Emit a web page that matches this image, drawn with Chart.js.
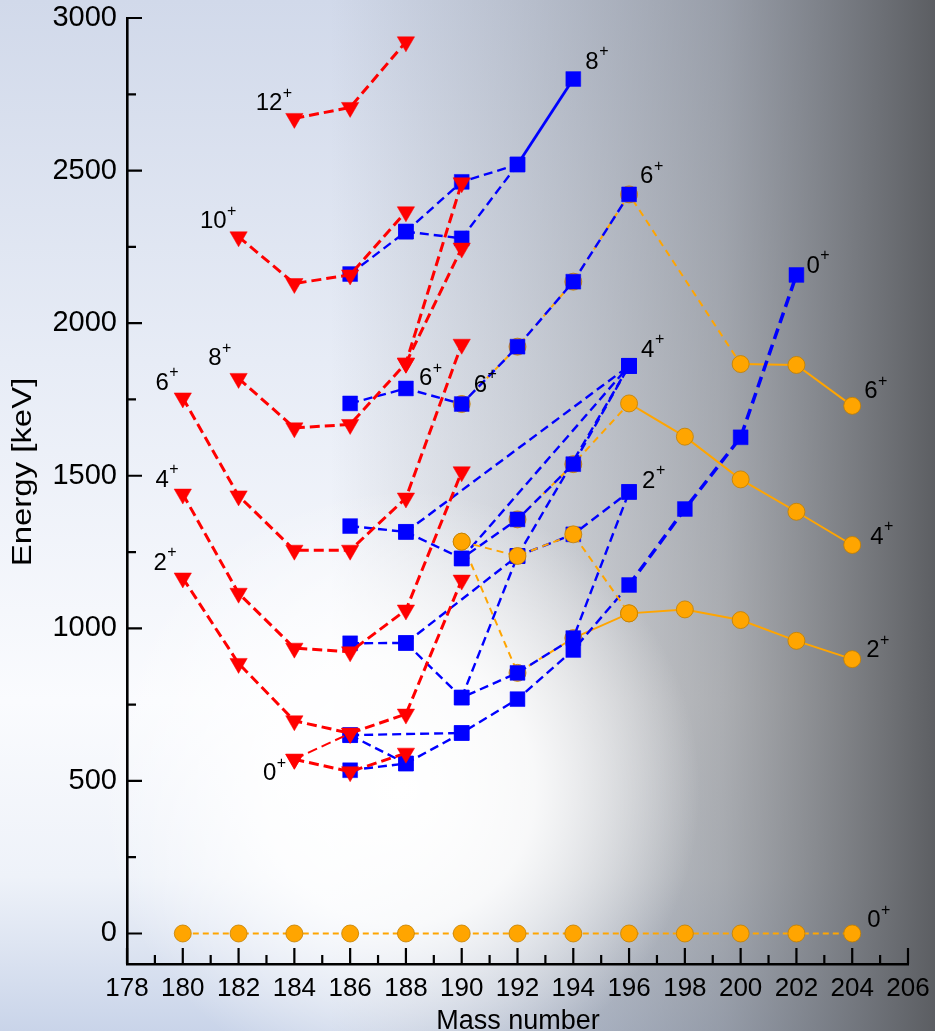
<!DOCTYPE html>
<html>
<head>
<meta charset="utf-8">
<script src="https://cdn.jsdelivr.net/npm/chart.js@4.4.1/dist/chart.umd.min.js"></script>
<style>
  html, body { margin: 0; padding: 0; background: #fff; }
  canvas { display: block; }
</style>
</head>
<body>
<canvas id="levels" width="935" height="1031"></canvas>
<script>
// ---- axis ticks ----
const X_TICKS = [178, 180, 182, 184, 186, 188, 190, 192, 194, 196, 198, 200, 202, 204, 206];
const X_MINOR = [179, 181, 183, 185, 187, 189, 191, 193, 195, 197, 199, 201, 203, 205];
const Y_TICKS = [0, 500, 1000, 1500, 2000, 2500, 3000];
const Y_MINOR = [250, 750, 1250, 1750, 2250, 2750];

// ---- red band (triangles): mass number / energy in keV ----
const redA_0 = [184, 186, 188];
const redE_0 = [571, 530, 591];
const redA_0b = [184, 186];
const redE_0b = [571, 656];
const redA_2 = [180, 182, 184, 186, 188, 190];
const redE_2 = [1165, 885, 697, 656, 719, 1158];
const redA_4 = [180, 182, 184, 186, 188, 190];
const redE_4 = [1440, 1115, 935, 923, 1060, 1513];
const redA_6 = [180, 182, 184, 186, 188, 190];
const redE_6 = [1755, 1434, 1256, 1256, 1427, 1931];
const redA_8 = [182, 184, 186, 188, 190];
const redE_8 = [1819, 1657, 1668, 1869, 2460];
const redA_8b = [188, 190];
const redE_8b = [1869, 2246];
const redA_10 = [182, 184, 186, 188];
const redE_10 = [2283, 2130, 2158, 2365];
const redA_12 = [184, 186, 188];
const redE_12 = [2671, 2707, 2922];

// ---- blue band (squares) ----
const blueA_0 = [186, 188, 190, 192, 194, 196, 198, 200, 202];
const blueE_0 = [535, 557, 657, 768, 929, 1142, 1391, 1626, 2158];
const blueA_0b = [186, 188];
const blueE_0b = [650, 557];
const blueA_0c = [186, 190];
const blueE_0c = [650, 657];
const blueA_2 = [186, 188, 192, 194, 196];
const blueE_2 = [951, 952, 1237, 1308, 1447];
const blueA_2b = [188, 190, 192, 194, 196];
const blueE_2b = [952, 773, 854, 968, 1447];
const blueA_2c = [190, 192];
const blueE_2c = [773, 1237];
const blueA_4 = [186, 188, 190, 192, 194, 196];
const blueE_4 = [1335, 1316, 1229, 1357, 1538, 1860];
const blueA_4b = [188, 196];
const blueE_4b = [1316, 1860];
const blueA_4c = [190, 196];
const blueE_4c = [1229, 1860];
const blueA_4d = [192, 196];
const blueE_4d = [1237, 1860];
const blueA_6 = [186, 188, 190, 192, 194, 196];
const blueE_6 = [1737, 1786, 1735, 1923, 2136, 2422];
const blueA_8 = [186, 188, 190, 192, 194];
const blueE_8 = [2161, 2300, 2463, 2520, 2800];
const blueA_8b = [188, 190, 192];
const blueE_8b = [2300, 2278, 2520];

// ---- orange band (circles) ----
const orgA_0 = [180, 182, 184, 186, 188, 190, 192, 194, 196, 198, 200, 202, 204];
const orgE_0 = [0, 0, 0, 0, 0, 0, 0, 0, 0, 0, 0, 0, 0];
const orgA_2 = [190, 192, 194, 196, 198, 200, 202, 204];
const orgE_2 = [1284, 854, 968, 1049, 1062, 1027, 959, 899];
const orgA_2b = [190, 192, 194, 196];
const orgE_2b = [1284, 1237, 1308, 1049];
const orgA_4 = [192, 194, 196, 198, 200, 202, 204];
const orgE_4 = [1357, 1538, 1737, 1628, 1488, 1382, 1273];
const orgA_6 = [190, 192, 194, 196, 200, 202, 204];
const orgE_6 = [1735, 1923, 2136, 2422, 1866, 1863, 1729];

// ---- spin labels ----
const lblText = ['12', '10', '8', '6', '4', '2', '0', '8', '6', '6', '6', '4', '2', '0', '6', '4', '2', '0'];
const lblA = [184, 182, 182, 180, 180, 180, 184, 194, 188, 190, 196, 196, 196, 202, 204, 204, 204, 204];
const lblE = [2671, 2283, 1819, 1755, 1440, 1165, 571, 2800, 1786, 1735, 2422, 1860, 1447, 2158, 1729, 1273, 899, 0];
// placement of each label relative to its level: [dx, dy, side]
const lblPlace = [
  [-12, -15, 'R'], [-12, -15, 'R'], [-17, -20, 'R'], [-14, -15, 'R'], [-14, -14, 'R'], [-16, -15, 'R'],
  [-18, 14, 'R'], [12, -17, 'L'], [13, -10, 'L'], [12, -19, 'L'], [11, -18, 'L'], [12, -16, 'L'],
  [13, -11, 'L'], [10, -9, 'L'], [12, -14, 'L'], [18, -8, 'L'], [14, -9, 'L'], [15, -13, 'L']
];

const FONT = '"Liberation Sans", Arial, Helvetica, sans-serif';
const RED = '#ff0000', BLUE = '#0000ff', ORANGE = '#ffa500';

function pts(A, E) { return A.map((a, i) => ({ x: a, y: E[i] })); }

function red(A, E, extra) {
  return Object.assign({
    data: pts(A, E), showLine: true, tension: 0, order: 1,
    borderColor: RED, borderWidth: 3, borderDash: [10, 5],
    pointStyle: 'triangle', rotation: 180, pointRadius: 10,
    pointBackgroundColor: RED, pointBorderColor: RED, pointBorderWidth: 0.5
  }, extra || {});
}
function blue(A, E, extra) {
  return Object.assign({
    data: pts(A, E), showLine: true, tension: 0, order: 2,
    borderColor: BLUE, borderWidth: 2.4, borderDash: [9, 5],
    pointStyle: 'rect', pointRadius: 10.5,
    pointBackgroundColor: BLUE, pointBorderColor: BLUE, pointBorderWidth: 0.5
  }, extra || {});
}
function orange(A, E, extra) {
  return Object.assign({
    data: pts(A, E), showLine: true, tension: 0, order: 3,
    borderColor: ORANGE, borderWidth: 2, borderDash: [7, 5],
    pointStyle: 'circle', pointRadius: 8.5,
    pointBackgroundColor: ORANGE, pointBorderColor: '#c27f00', pointBorderWidth: 0.8
  }, extra || {});
}
// segments starting at or beyond mass `from` are drawn solid
function solidFrom(from, width) {
  return {
    borderDash: ctx => ctx.p0.parsed.x >= from ? [] : undefined,
    borderWidth: ctx => (width && ctx.p0.parsed.x >= from) ? width : undefined
  };
}

const datasets = [
  orange(orgA_6, orgE_6, { segment: solidFrom(200) }),
  orange(orgA_4, orgE_4, { segment: solidFrom(196) }),
  orange(orgA_2, orgE_2, { segment: solidFrom(194) }),
  orange(orgA_2b, orgE_2b, { order: 1.5 }),
  orange(orgA_0, orgE_0, { borderDash: [6, 4] }),

  blue(blueA_0, blueE_0, { segment: { borderWidth: ctx => ctx.p0.parsed.x >= 196 ? 3.5 : undefined,
                                       borderDash: ctx => ctx.p0.parsed.x >= 196 ? [11, 6] : undefined } }),
  blue(blueA_0b, blueE_0b),
  blue(blueA_0c, blueE_0c),
  blue(blueA_2, blueE_2),
  blue(blueA_2b, blueE_2b),
  blue(blueA_2c, blueE_2c),
  blue(blueA_4, blueE_4),
  blue(blueA_4b, blueE_4b),
  blue(blueA_4c, blueE_4c),
  blue(blueA_4d, blueE_4d),
  blue(blueA_6, blueE_6),
  blue(blueA_8, blueE_8, { segment: solidFrom(192, 2.8) }),
  blue(blueA_8b, blueE_8b),

  red(redA_0, redE_0),
  red(redA_0b, redE_0b, { borderWidth: 2 }),
  red(redA_2, redE_2),
  red(redA_4, redE_4),
  red(redA_6, redE_6),
  red(redA_8, redE_8),
  red(redA_8b, redE_8b),
  red(redA_10, redE_10),
  red(redA_12, redE_12)
];

// shaded backdrop: pale blue on the left, darkening to grey on the right
const backdrop = {
  id: 'backdrop',
  beforeDraw(chart) {
    const { ctx, width, height } = chart;
    ctx.save();
    const v = ctx.createLinearGradient(0, 0, 0, height);
    v.addColorStop(0, '#d1d9ea');
    v.addColorStop(0.35, '#e7ecf6');
    v.addColorStop(0.68, '#fafbfe');
    v.addColorStop(0.85, '#eef2f9');
    v.addColorStop(1, '#c9d4e9');
    ctx.fillStyle = v;
    ctx.fillRect(0, 0, width, height);

    const h = ctx.createLinearGradient(330, 0, width, 0);
    h.addColorStop(0, 'rgba(110,114,120,0)');
    h.addColorStop(0.3, 'rgba(110,114,120,0.24)');
    h.addColorStop(0.65, 'rgba(100,103,108,0.52)');
    h.addColorStop(1, 'rgba(88,90,94,0.97)');
    ctx.fillStyle = h;
    ctx.fillRect(0, 0, width, height);

    const r = ctx.createRadialGradient(400, 790, 0, 400, 790, 300);
    r.addColorStop(0, 'rgba(255,255,255,1)');
    r.addColorStop(0.45, 'rgba(255,255,255,0.85)');
    r.addColorStop(1, 'rgba(255,255,255,0)');
    ctx.fillStyle = r;
    ctx.fillRect(0, 0, width, height);
    ctx.restore();
  }
};

// inward major and minor tick marks
const innerTicks = {
  id: 'innerTicks',
  beforeDatasetsDraw(chart) {
    const { ctx, chartArea, scales: { x, y } } = chart;
    ctx.save();
    ctx.strokeStyle = '#000';
    ctx.lineWidth = 2.2;
    ctx.beginPath();
    const tick = (x1, y1, x2, y2) => { ctx.moveTo(x1, y1); ctx.lineTo(x2, y2); };
    Y_TICKS.forEach(v => { const p = y.getPixelForValue(v); tick(chartArea.left, p, chartArea.left + 15, p); });
    Y_MINOR.forEach(v => { const p = y.getPixelForValue(v); tick(chartArea.left, p, chartArea.left + 9, p); });
    X_TICKS.forEach(v => { const p = x.getPixelForValue(v); tick(p, chartArea.bottom, p, chartArea.bottom - 16); });
    X_MINOR.forEach(v => { const p = x.getPixelForValue(v); tick(p, chartArea.bottom, p, chartArea.bottom - 9); });
    ctx.stroke();
    ctx.restore();
  }
};

// spin-parity labels and axis titles
const annotations = {
  id: 'annotations',
  afterDatasetsDraw(chart) {
    const { ctx, scales: { x, y } } = chart;
    ctx.save();
    ctx.fillStyle = '#000';
    ctx.textBaseline = 'middle';
    lblText.forEach((t, i) => {
      const [dx, dy, side] = lblPlace[i];
      const px = x.getPixelForValue(lblA[i]) + dx;
      const py = y.getPixelForValue(lblE[i]) + dy;
      ctx.font = '24px ' + FONT;
      const w = ctx.measureText(t).width;
      const left = side === 'R' ? px - w : px;
      ctx.textAlign = 'left';
      ctx.fillText(t, left, py);
      ctx.font = '16px ' + FONT;
      ctx.fillText('+', left + w + 0.5, py - 10);
    });

    ctx.font = '27px ' + FONT;
    ctx.textAlign = 'center';
    ctx.textBaseline = 'alphabetic';
    ctx.fillText('Mass number', 518, 1029);

    ctx.translate(31, 472);
    ctx.rotate(-Math.PI / 2);
    ctx.scale(1.22, 1);
    ctx.font = '27px ' + FONT;
    ctx.fillText('Energy [keV]', 0, 0);
    ctx.restore();
  }
};

new Chart(document.getElementById('levels'), {
  type: 'scatter',
  data: { datasets },
  options: {
    responsive: false,
    devicePixelRatio: 1,
    animation: false,
    events: [],
    layout: { autoPadding: false, padding: { left: 0, top: 18, right: 27, bottom: 0 } },
    plugins: { legend: { display: false }, tooltip: { enabled: false } },
    scales: {
      x: {
        type: 'linear', min: 178, max: 206,
        afterBuildTicks: axis => { axis.ticks = X_TICKS.map(v => ({ value: v })); },
        afterFit: axis => { axis.height = 67; axis.paddingLeft = 0; axis.paddingRight = 0; },
        grid: { display: false, drawTicks: false },
        border: { display: true, color: '#000', width: 2.6 },
        ticks: { color: '#000', padding: 9, maxRotation: 0, autoSkip: false,
                 callback: v => String(v),
                 font: { family: FONT, size: 26 } }
      },
      y: {
        type: 'linear', min: -100, max: 3000,
        afterBuildTicks: axis => { axis.ticks = Y_TICKS.map(v => ({ value: v })); },
        afterFit: axis => { axis.width = 127; axis.paddingTop = 0; axis.paddingBottom = 0; },
        grid: { display: false, drawTicks: false },
        border: { display: true, color: '#000', width: 2.6 },
        ticks: { color: '#000', padding: 10, callback: v => String(v),
                 font: { family: FONT, size: 29 } }
      }
    }
  },
  plugins: [backdrop, innerTicks, annotations]
});
</script>
</body>
</html>
